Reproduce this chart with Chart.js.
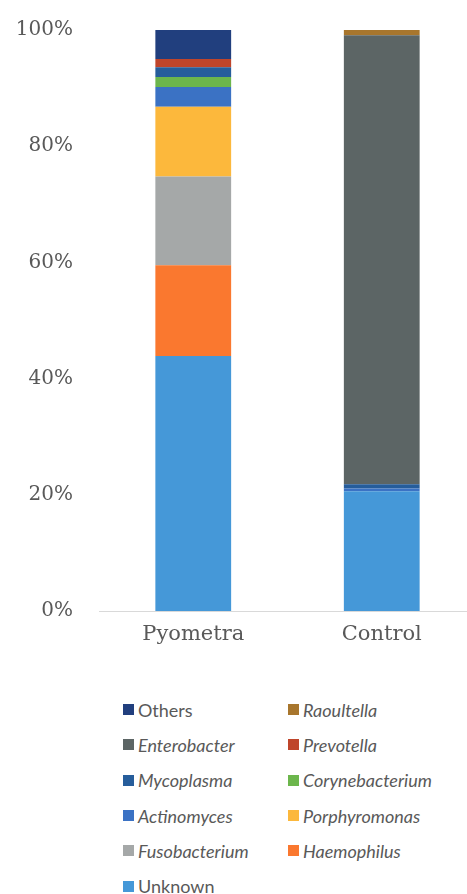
<!DOCTYPE html>
<html lang="en">
<head>
    <title>Pyometra vs Control</title>
    <meta charset="UTF-8">
    <script src="https://cdn.jsdelivr.net/npm/chart.js"></script>
    <style>
        body {
            margin: 0;
            background: #fff;
            overflow: hidden;
            width: 467px;
            height: 894px;
            position: relative;
        }

        .chart-box {
            position: absolute;
            left: 0;
            top: 0;
            width: 476px;
            height: 660px;
        }

        #legend {
            position: absolute;
            left: 123px;
            top: 692px;
            display: grid;
            grid-template-columns: 165px 170px;
            grid-auto-rows: 35.3px;
            font-family: Lato, "Open Sans", sans-serif;
            font-size: 18px;
            color: #595959;
        }

        .item {
            display: flex;
            align-items: center;
            white-space: nowrap;
        }

        .item i.box {
            display: inline-block;
            width: 11px;
            height: 11px;
            margin-right: 4px;
        }

        .item.genus span {
            font-style: italic;
        }
    </style>
</head>

<body>
<div class="chart-box">
    <canvas id="abundance"></canvas>
</div>
<div id="legend"></div>

<script>
    const categories = ['Pyometra', 'Control'];
    const yTicks = [0, 20, 40, 60, 80, 100];

    // relative abundance (%), stacked bottom to top
    const unknown = [43.9, 20.6];
    const haemophilus = [15.6, 0];
    const fusobacterium = [15.3, 0];
    const porphyromonas = [12.0, 0];
    const actinomyces = [3.4, 0.5];
    const corynebacterium = [1.7, 0];
    const mycoplasma = [1.7, 0.7];
    const prevotella = [1.4, 0];
    const enterobacter = [0, 77.3];
    const raoultella = [0, 0.9];
    const others = [5.0, 0];

    const series = [
        {name: 'Unknown', data: unknown, color: '#4598d8'},
        {name: 'Haemophilus', data: haemophilus, color: '#fa782f'},
        {name: 'Fusobacterium', data: fusobacterium, color: '#a5a8a8'},
        {name: 'Porphyromonas', data: porphyromonas, color: '#fcb83c'},
        {name: 'Actinomyces', data: actinomyces, color: '#3b72c4'},
        {name: 'Corynebacterium', data: corynebacterium, color: '#6cb64c'},
        {name: 'Mycoplasma', data: mycoplasma, color: '#265d9b'},
        {name: 'Prevotella', data: prevotella, color: '#bf452b'},
        {name: 'Enterobacter', data: enterobacter, color: '#5c6565'},
        {name: 'Raoultella', data: raoultella, color: '#a8762d'},
        {name: 'Others', data: others, color: '#213f7e'}
    ];

    const plainNames = ['Others', 'Unknown'];

    const chart = new Chart(document.getElementById('abundance'), {
        type: 'bar',
        data: {
            labels: categories,
            datasets: series.map(s => ({
                label: s.name,
                data: s.data,
                backgroundColor: s.color,
                borderWidth: 0,
                barPercentage: 0.402,
                categoryPercentage: 1
            }))
        },
        options: {
            responsive: true,
            maintainAspectRatio: false,
            animation: false,
            layout: {
                padding: {top: 18, left: 0, right: 0, bottom: 0}
            },
            plugins: {
                legend: {display: false},
                tooltip: {enabled: false}
            },
            scales: {
                x: {
                    stacked: true,
                    grid: {display: false},
                    border: {display: true, color: '#d9d9d9', width: 1},
                    ticks: {
                        color: '#595959',
                        padding: 3,
                        font: {family: 'DejaVu Serif', size: 21}
                    },
                    afterFit: s => { s.height = 49; }
                },
                y: {
                    stacked: true,
                    min: 0,
                    max: 100,
                    grid: {display: false},
                    border: {display: false},
                    afterBuildTicks: s => { s.ticks = yTicks.map(v => ({value: v})); },
                    ticks: {
                        color: '#595959',
                        padding: 18,
                        font: {family: 'DejaVu Serif', size: 20},
                        callback: v => v + '%'
                    },
                    afterFit: s => { s.width = 99; }
                }
            }
        }
    });

    // legend in two columns, top of the stack first
    const legend = document.getElementById('legend');
    chart.data.datasets.slice().reverse().forEach(ds => {
        const item = document.createElement('div');
        item.className = 'item' + (plainNames.includes(ds.label) ? '' : ' genus');
        item.innerHTML = '<i class="box" style="background:' + ds.backgroundColor + '"></i><span>' + ds.label + '</span>';
        legend.appendChild(item);
    });
</script>
</body>
</html>
